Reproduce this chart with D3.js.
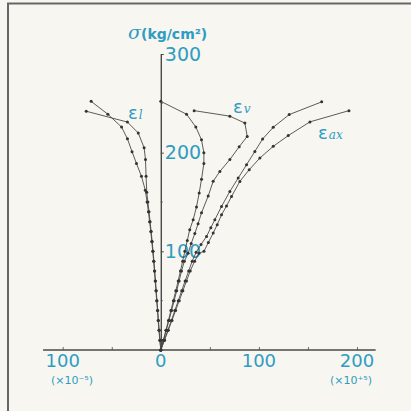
<!DOCTYPE html>
<html lang="en">
<head>
    <meta charset="UTF-8">
    <script src="https://d3js.org/d3.v7.min.js"></script>
    <title>Stress-strain curves</title>
    <style>
        body {
            margin: 0;
            background-color: #f7f6f0;
        }
        .lbl {
            fill: #2f9cc2;
            font-family: "DejaVu Sans", sans-serif;
        }
    </style>
</head>
<body>
    <div id="chart"></div>

    <script>
        // lateral strain (two specimens)
        const elA_strain = [0, -1, -1.9, -2.7, -3.4, -4.2, -5, -5.7, -6.5, -7.3, -8.2, -9.2, -10.2, -11.4, -12.6, -14, -15.8, -19.7, -24.8, -29.3, -34, -40, -54, -71];
        const elA_stress = [0, 10, 20, 30, 40, 50, 60, 70, 80, 90, 100, 110, 120, 130, 140, 150, 162, 176, 189, 201, 214, 226, 239, 252];
        const elB_strain = [0, -0.8, -1.6, -2.4, -3.1, -3.9, -4.6, -5.4, -6.2, -7, -7.9, -8.8, -9.8, -10.9, -12, -13.2, -14.3, -15, -15.6, -17, -23, -34, -76];
        const elB_stress = [0, 10, 20, 30, 40, 50, 60, 70, 80, 90, 100, 110, 120, 130, 140, 150, 160, 176, 193, 205, 220, 231, 242];

        // volumetric strain
        const evA_strain = [0, 2.6, 5.2, 7.8, 10.3, 12.8, 15.3, 17.7, 20, 22.3, 24.5, 27, 29.5, 33, 36.4, 39.1, 41.5, 43.9, 43.9, 41.5, 35.7, 26.2, 0];
        const evA_stress = [0, 10, 20, 30, 40, 50, 60, 70, 80, 90, 100, 111, 122, 132, 145, 159, 173, 189, 200, 213, 226, 239, 252];
        const evB_strain = [0, 2.8, 5.6, 8.3, 11, 13.6, 16.2, 18.7, 21.1, 24, 27.9, 31, 34.7, 38, 41.5, 48.3, 53.4, 60.2, 70.4, 79.9, 88.1, 85.7, 70.4, 34];
        const evB_stress = [0, 10, 20, 30, 40, 50, 60, 70, 80, 90, 98, 108, 118, 128, 139, 156, 171, 181, 193, 206, 216.5, 230, 237, 242.6];

        // axial strain
        const axA_strain = [0, 3.6, 7.2, 10.8, 14.3, 17.8, 21.3, 24.8, 28.4, 32, 36, 41, 46.6, 51, 55.1, 61.9, 70.4, 78.9, 87.4, 95.9, 103.8, 114.6, 130.9, 164];
        const axA_stress = [0, 10, 20, 30, 40, 50, 60, 70, 80, 90, 99, 107, 115, 124, 132, 145.5, 160.7, 174.3, 187.8, 201.3, 213.9, 225.7, 238.6, 251.5];
        const axB_strain = [0, 3.8, 7.6, 11.4, 15.1, 18.8, 22.5, 26.2, 30, 34.5, 39, 44, 48.5, 53.4, 57.5, 61.9, 67, 72.1, 80.6, 90.1, 101, 114.6, 129.9, 152, 191.8];
        const axB_stress = [0, 10, 20, 30, 40, 50, 60, 70, 80, 90, 98, 100, 109, 118.5, 127, 137, 146, 155.6, 170.9, 182.7, 194.6, 206.4, 217.3, 231.2, 242.6];

        const yTicks = [100, 200, 300];
        const yMinor = [50, 150, 250];
        const xTicks = [-100, 0, 100, 200];
        const xMinor = [-50, 50, 150];

        const width = 411, height = 411;
        const ink = "#4a4a4a";

        const svg = d3.select("#chart").append("svg")
            .attr("width", width)
            .attr("height", height);

        svg.append("rect").attr("width", width).attr("height", height).attr("fill", "#f7f6f0");
        // frame edges
        svg.append("path").attr("d", "M8,411V3.5H411")
            .attr("fill", "none").attr("stroke", "#666").attr("stroke-width", 2);

        const x = d3.scaleLinear().domain([-100, 200]).range([62.7, 357]);
        const y = d3.scaleLinear().domain([0, 300]).range([350, 54]);

        // x axis
        const xAxis = svg.append("g").attr("transform", `translate(0,${y(0)})`)
            .call(d3.axisBottom(x).tickValues(xTicks.concat(xMinor)).tickSize(-3).tickFormat(""));
        xAxis.select(".domain").attr("d", `M${x(-120)},0H${x(219)}`);
        xAxis.selectAll("path, line").attr("stroke", ink).attr("stroke-width", 1.4);
        xAxis.selectAll(".tick line").attr("stroke-width", 0.8);

        svg.selectAll(".xlab").data(xTicks).enter().append("text")
            .attr("class", "lbl")
            .attr("x", d => x(d))
            .attr("y", y(0) + 17)
            .attr("text-anchor", "middle")
            .attr("font-size", 18)
            .text(d => Math.abs(d));

        svg.append("text").attr("class", "lbl")
            .attr("x", 72).attr("y", 384).attr("text-anchor", "middle").attr("font-size", 11)
            .text("(×10⁻⁵)");
        svg.append("text").attr("class", "lbl")
            .attr("x", 351).attr("y", 384).attr("text-anchor", "middle").attr("font-size", 11)
            .text("(×10⁺⁵)");

        // y axis
        const yAxis = svg.append("g").attr("transform", `translate(${x(0)},0)`)
            .call(d3.axisRight(y).tickValues(yTicks).tickSize(3).tickPadding(1).tickSizeOuter(0));
        yAxis.select(".domain").attr("stroke", ink).attr("stroke-width", 1.4);
        yAxis.selectAll(".tick line").attr("stroke", ink);
        yAxis.selectAll(".tick text")
            .attr("class", "lbl")
            .attr("font-size", 19)
            .attr("fill", "#2f9cc2");
        yAxis.selectAll(".minor").data(yMinor).enter().append("line")
            .attr("x1", 0).attr("x2", 2).attr("y1", d => y(d)).attr("y2", d => y(d))
            .attr("stroke", ink).attr("stroke-width", 0.8);

        // title
        const title = svg.append("text").attr("class", "lbl")
            .attr("x", 128).attr("y", 39);
        title.append("tspan").attr("font-family", "DejaVu Serif, serif").attr("font-style", "italic")
            .attr("font-size", 19).text("σ");
        title.append("tspan").attr("font-size", 14).attr("font-weight", "bold").text("(kg/cm²)");

        // curves
        const curves = [
            [elA_strain, elA_stress],
            [elB_strain, elB_stress],
            [evA_strain, evA_stress],
            [evB_strain, evB_stress],
            [axA_strain, axA_stress],
            [axB_strain, axB_stress]
        ];

        const line = d3.line().x(d => x(d[0])).y(d => y(d[1]));

        curves.forEach(([xs, ys]) => {
            const pts = xs.map((v, i) => [v, ys[i]]);
            svg.append("path")
                .datum(pts)
                .attr("d", line)
                .attr("fill", "none")
                .attr("stroke", ink)
                .attr("stroke-width", 0.9);
            svg.append("g").selectAll("circle")
                .data(pts)
                .enter()
                .append("circle")
                .attr("cx", d => x(d[0]))
                .attr("cy", d => y(d[1]))
                .attr("r", 1.5)
                .attr("fill", "#333");
        });

        // curve labels
        const addLabel = (px, py, sub) => {
            const t = svg.append("text").attr("class", "lbl").attr("x", px).attr("y", py);
            t.append("tspan").attr("font-size", 18).text("ε");
            t.append("tspan").attr("font-family", "DejaVu Serif, serif").attr("font-style", "italic")
                .attr("font-size", 12).attr("dx", 1).text(sub);
        };
        addLabel(128, 119, "l");
        addLabel(233, 113, "v");
        addLabel(318, 139, "ax");
    </script>
</body>
</html>
